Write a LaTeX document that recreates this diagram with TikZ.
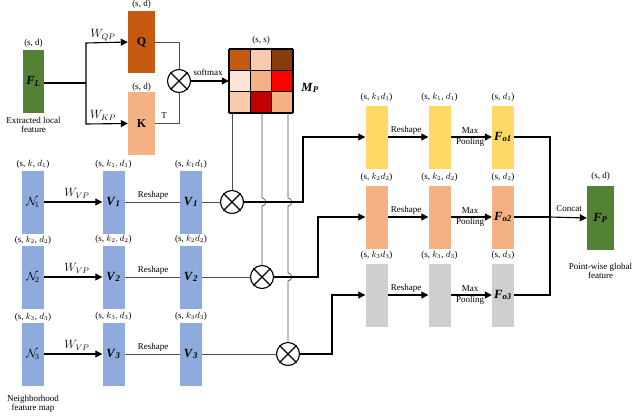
\documentclass[tikz,border=0pt]{standalone}
\usepackage{fontspec}
\setmainfont{Liberation Serif}
\usetikzlibrary{arrows.meta}
\definecolor{cgreen}{HTML}{548235}
\definecolor{cQ}{HTML}{C55A11}
\definecolor{cK}{HTML}{F4B183}
\definecolor{cblue}{HTML}{8FAADC}
\definecolor{cyel}{HTML}{FFD966}
\definecolor{cgray}{HTML}{D0CECE}
\tikzset{
 mycol/.style={minimum width=22pt,minimum height=63pt,inner sep=0pt},
 mylab/.style={font=\fontsize{9}{9.5}\selectfont,inner sep=0pt},
 mybig/.style={font=\fontsize{12}{13}\selectfont,inner sep=0pt},
 myarr/.style={line width=1.1pt,-{Triangle[length=7pt,width=7pt]}},
 mythk/.style={line width=1.1pt},
 mythin/.style={line width=0.7pt,draw=black!70},
 myot/.style={circle,draw,line width=1.1pt,minimum size=23pt,inner sep=0pt}
}
\newcommand{\mycross}[1]{\draw[line width=1.1pt] (#1.north west)--(#1.south east) (#1.north east)--(#1.south west);}
\newcommand{\bvar}[2]{\fontsize{12.5}{13}\selectfont\textbf{\textit{#1}}\textsubscript{\textbf{\textit{#2}}}}
\begin{document}
\begin{tikzpicture}[x=1pt,y=-1pt]
\useasboundingbox (0,0) rectangle (640,418);
% top
\node[mycol,fill=cgreen,minimum width=21pt] (FL) at (33.5,81.5) {\bvar{F}{L}};
\node[mylab] at (33.5,43) {(s, d)};
\node[mylab,align=center] at (33.5,125) {Extracted local\\feature};
\node[mycol,fill=cQ,minimum width=27pt,minimum height=62pt] (Q) at (141.5,42) {\fontsize{12}{13}\selectfont\textbf{Q}};
\node[mylab] at (141.5,4) {(s, d)};
\node[mycol,fill=cK,minimum width=27pt] (K) at (141.5,123.5) {\fontsize{12}{13}\selectfont\textbf{K}};
\node[mylab] at (141.5,87) {(s, d)};
\coordinate (br) at (86,83);
\draw[mythk] (FL.east|-br) -- (br);
\draw[myarr] (br) -- (86,43) -- (Q.west|-Q.center);
\draw[myarr] (br) -- (86,124) -- (K.west|-K.center);
\node[mybig] at (103,35) {$W_{QP}$};
\node[mybig] at (103,115) {$W_{KP}$};
\node[myot] (o0) at (179,81) {};
\mycross{o0}
\draw[mythin] (Q.east) -- (179,42) -- (o0.north);
\draw[mythin] (K.east) -- (179,123.5) -- (o0.south);
\node[mylab] at (164,116) {T};
\node[inner sep=0pt,minimum size=64pt] (M) at (261,81) {};
\foreach \c [count=\i from 0] in {C55A11,F8CBAD,843C0C,FBE5D6,F4B183,FF0000,F8CBAD,C00000,F4B183}{
 \pgfmathtruncatemacro\r{int(\i/3)}\pgfmathtruncatemacro\q{mod(\i,3)}
 \definecolor{tmp}{HTML}{\c}
 \fill[tmp] (229+\q*21.33,49+\r*21.33) rectangle ++(21.33,21.33);}
\foreach \k in {0,1,2,3}{
 \draw[line width=1.2pt] (229+\k*21.33,49) -- (229+\k*21.33,113);
 \draw[line width=1.2pt] (229,49+\k*21.33) -- (293,49+\k*21.33);}
\node[mylab] at (261,40) {(s, s)};
\node[inner sep=0pt] at (310,88) {\bvar{M}{P}};
\draw[myarr] (o0.east) -- (M.west|-o0.east);
\node[mylab] at (208,72) {softmax};
% left rows
\foreach \y/\i/\b/\c in {202/1/{k_1, d_1}/{k_1d_1},277/2/{k_2, d_2}/{k_2d_2},354/3/{k_3, d_3}/{k_3d_3}}{
 \node[mycol,fill=cblue] (N\i) at (33,\y) {\fontsize{12}{13}\selectfont$\mathcal{N}_{\!\i}$};
 \node[mycol,fill=cblue] (V\i) at (113.5,\y) {\bvar{V}{\i}};
 \node[mycol,fill=cblue] (W\i) at (191,\y) {\bvar{V}{\i}};
 \node[mylab] at (113.5,\y-38) {(s, $\b$)};
 \node[mylab] at (191,\y-38) {(s, $\c$)};
 \draw[myarr] (N\i) -- (V\i);
 \node[mybig] at (77,\y-9) {$W_{VP}$};
 \draw[mythin] (V\i) -- (W\i);
 \node[mylab] at (153,\y-7) {Reshape};
}
\node[mylab] at (33,164) {(s, $k$, $d_1$)};
\node[mylab] at (33,240) {(s, $k_2$, $d_2$)};
\node[mylab] at (33,317) {(s, $k_3$, $d_3$)};
\node[mylab,align=center] at (33,404) {Neighborhood\\feature map};
\node[myot] (o1) at (232,202) {};
\node[myot] (o2) at (262,277) {};
\node[myot] (o3) at (288,354) {};
\mycross{o1}\mycross{o2}\mycross{o3}
\draw[mythin] (W1) -- (o1);
\draw[mythin] (W2) -- (o2);
\draw[mythin] (W3) -- (o3);
\draw[mythin] (232,113) -- (o1.north);
\draw[mythin] (262,113) -- (262,198) .. controls (267,198) and (267,206) .. (262,206) -- (o2.north);
\draw[mythin] (288,113) -- (288,198) .. controls (293,198) and (293,206) .. (288,206) -- (288,273) .. controls (293,273) and (293,281) .. (288,281) -- (o3.north);
% right
\foreach \y/\i/\f in {137/1/cyel,217/2/cK,295/3/cgray}{
 \node[mycol,fill=\f] (A\i) at (376.5,\y) {};
 \node[mycol,fill=\f] (B\i) at (439.5,\y) {};
 \node[mycol,fill=\f] (C\i) at (503,\y) {\bvar{F}{o\i}};
 \node[mylab] at (376.5,\y-40) {(s, $k_\i d_\i$)};
 \node[mylab] at (439.5,\y-40) {(s, $k_\i$, $d_\i$)};
 \node[mylab] at (503,\y-40) {(s, $d_\i$)};
 \draw[myarr] (A\i) -- (B\i);
 \draw[myarr] (B\i) -- (C\i);
 \node[mylab] at (406,\y-7) {Reshape};
 \node[mylab,align=center] at (470,\y) {Max\\[1pt]Pooling};
}
\draw[myarr] (o1.east) -- (303,202) -- (303,137) -- (A1.west);
\draw[myarr] (o2.east) -- (318,277) -- (318,217) -- (A2.west);
\draw[myarr] (o3.east) -- (332,354) -- (332,295) -- (A3.west);
\node[mycol,fill=cgreen,minimum width=27pt,minimum height=64pt] (FP) at (600.5,218) {\bvar{F}{P}};
\node[mylab] at (600.5,176) {(s, d)};
\node[mylab,align=center] at (600.5,271) {Point-wise global\\feature};
\draw[mythk] (C1.east) -- (550,137) -- (550,295) -- (C3.east);
\draw[mythk] (C2.east) -- (550,217);
\draw[myarr] (550,217) -- (FP.west);
\node[mylab] at (569,209) {Concat};
\end{tikzpicture}
\end{document}
